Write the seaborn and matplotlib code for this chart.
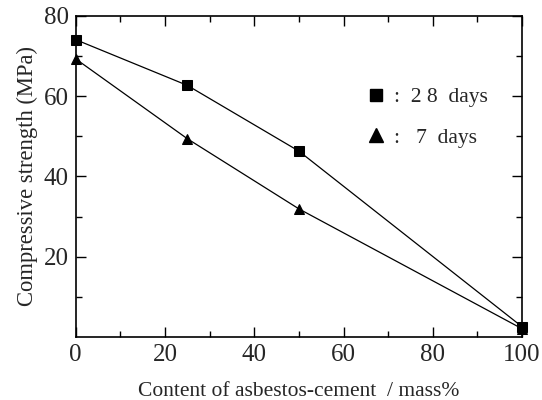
import matplotlib
matplotlib.use("Agg")
import matplotlib.pyplot as plt
import seaborn as sns
import pandas as pd
from matplotlib.ticker import MultipleLocator, FixedLocator
from matplotlib.lines import Line2D

content = [0, 25, 50, 100]
strength_28 = [74.1, 62.7, 46.3, 2.5]
strength_7 = [69.3, 49.4, 31.9, 2.0]
series_names = ["28 days", "7 days"]
legend_labels = [":  2 8  days", ":   7  days"]
y_ticks = [20, 40, 60, 80]

df = pd.DataFrame({
    "content": content * 2,
    "strength": strength_28 + strength_7,
    "series": [series_names[0]] * len(content) + [series_names[1]] * len(content),
})

sns.set_style("ticks")
plt.rcParams["font.family"] = ["Liberation Serif", "DejaVu Serif"]

fig = plt.figure(figsize=(5.42, 4.0), dpi=100)
ax = fig.add_axes([0.1397, 0.158, 0.8236, 0.802])

sns.lineplot(data=df, x="content", y="strength", style="series",
             markers={"28 days": "s", "7 days": "^"}, dashes=False,
             color="black", linewidth=0.9, markersize=7.3,
             markeredgecolor="black", ax=ax, legend=False, clip_on=False)

ax.set_xlim(0, 100)
ax.set_ylim(0, 80)
ax.xaxis.set_major_locator(MultipleLocator(20))
ax.xaxis.set_minor_locator(MultipleLocator(10))
ax.yaxis.set_major_locator(FixedLocator(y_ticks))
ax.yaxis.set_minor_locator(FixedLocator([10, 30, 50, 70]))
ax.tick_params(which="both", direction="in", top=True, right=True,
               width=1.0, color="black")
ax.tick_params(which="major", length=7, labelsize=18, pad=5)
ax.tick_params(which="minor", length=4)
for s in ax.spines.values():
    s.set_linewidth(1.2)
    s.set_color("black")

ax.set_xlabel("Content of asbestos-cement  / mass%", fontsize=15.5, labelpad=12)
ax.set_ylabel("Compressive strength (MPa)", fontsize=16.3, labelpad=4)

handles = [Line2D([], [], marker="s", color="black", linestyle="none", markersize=8.4),
           Line2D([], [], marker="^", color="black", linestyle="none", markersize=9.5)]
ax.legend(handles, legend_labels, frameon=False, fontsize=15.5,
          loc="upper left", bbox_to_anchor=(0.6496, 0.778), borderpad=0,
          borderaxespad=0, handletextpad=0.3, labelspacing=0.94, handlelength=1.0)

fig.savefig("out.png", dpi=100)
